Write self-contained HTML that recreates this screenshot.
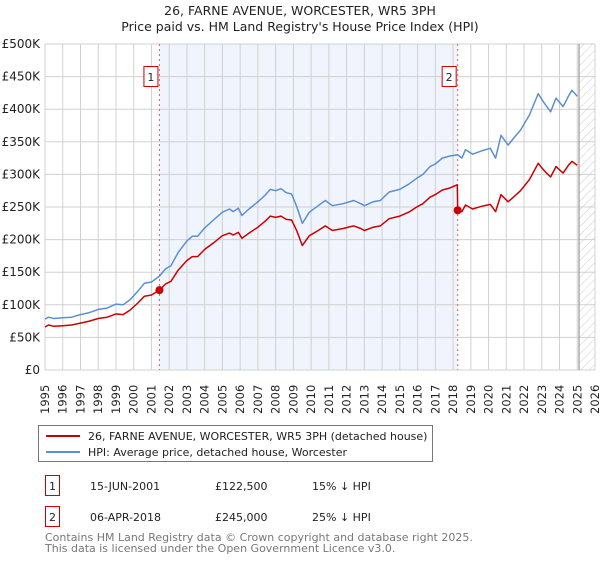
<!DOCTYPE html>
<html><head><meta charset="utf-8"><style>
body{margin:0;background:#fff;font-family:"Liberation Sans","DejaVu Sans",sans-serif;}
svg text{font-family:"DejaVu Sans","Liberation Sans",sans-serif;}
</style></head><body>
<svg id="chart" width="600" height="560" xmlns="http://www.w3.org/2000/svg">
<defs><pattern id="hatch" width="6" height="6" patternUnits="userSpaceOnUse" patternTransform="rotate(45)"><line x1="0" y1="0" x2="0" y2="6" stroke="#ccc" stroke-width="1"/></pattern></defs>
<text x="300" y="15" text-anchor="middle" font-size="12.5" fill="#222">26, FARNE AVENUE, WORCESTER, WR5 3PH</text>
<text x="300" y="31" text-anchor="middle" font-size="12.5" fill="#222">Price paid vs. HM Land Registry's House Price Index (HPI)</text>
<g id="plot"></g>
<g>
<rect x="38.5" y="425.5" width="394" height="36" fill="#fff" stroke="#777"/>
<line x1="46" y1="436" x2="80" y2="436" stroke="#cc0000" stroke-width="2"/>
<text x="88" y="440" font-size="11" fill="#222">26, FARNE AVENUE, WORCESTER, WR5 3PH (detached house)</text>
<line x1="46" y1="452" x2="80" y2="452" stroke="#5b8fd4" stroke-width="2"/>
<text x="88" y="456" font-size="11" fill="#222">HPI: Average price, detached house, Worcester</text>
</g>
<g font-size="11" fill="#222">
<rect x="45.5" y="475.5" width="14" height="20" fill="#fff" stroke="#cc0000"/>
<text x="52.5" y="490" text-anchor="middle">1</text>
<text x="90" y="490">15-JUN-2001</text><text x="215" y="490">£122,500</text><text x="312" y="490">15% ↓ HPI</text>
<rect x="45.5" y="506.5" width="14" height="20" fill="#fff" stroke="#cc0000"/>
<text x="52.5" y="521" text-anchor="middle">2</text>
<text x="90" y="521">06-APR-2018</text><text x="215" y="521">£245,000</text><text x="312" y="521">25% ↓ HPI</text>
</g>
<text x="45" y="541" font-size="11" fill="#777">Contains HM Land Registry data © Crown copyright and database right 2025.</text>
<text x="45" y="552" font-size="11" fill="#777">This data is licensed under the Open Government Licence v3.0.</text>
</svg>
<script>
const hpiYears=[1995.0,1995.2,1995.5,1996.0,1996.5,1997.0,1997.5,1998.0,1998.5,1999.0,1999.4,1999.8,2000.2,2000.6,2001.0,2001.45,2001.8,2002.1,2002.5,2003.0,2003.3,2003.6,2004.0,2004.5,2005.0,2005.4,2005.6,2005.9,2006.1,2006.5,2007.0,2007.4,2007.7,2008.0,2008.3,2008.6,2008.9,2009.2,2009.5,2009.9,2010.4,2010.8,2011.2,2011.8,2012.4,2012.8,2013.0,2013.5,2013.9,2014.4,2015.0,2015.5,2015.95,2016.3,2016.7,2017.0,2017.4,2017.8,2018.26,2018.5,2018.7,2019.1,2019.6,2020.1,2020.4,2020.7,2021.1,2021.4,2021.8,2022.3,2022.8,2023.0,2023.2,2023.5,2023.8,2024.2,2024.5,2024.7,2025.0];
const hpiValues=[78,81,79,80,81,85,88,93,95,101,100,108,120,133,135,144,155,160,180,198,205,205,218,230,242,247,243,248,237,247,258,268,277,275,278,272,270,250,225,242,252,260,252,255,260,255,252,258,260,273,277,285,294,300,312,316,325,328,330,325,338,331,336,340,325,360,345,355,368,391,424,415,407,396,417,404,420,429,420];
const propYears=[1995.0,1995.2,1995.5,1996.0,1996.5,1997.0,1997.5,1998.0,1998.5,1999.0,1999.4,1999.8,2000.2,2000.6,2001.0,2001.45,2001.8,2002.1,2002.5,2003.0,2003.3,2003.6,2004.0,2004.5,2005.0,2005.4,2005.6,2005.9,2006.1,2006.5,2007.0,2007.4,2007.7,2008.0,2008.3,2008.6,2008.9,2009.2,2009.5,2009.9,2010.4,2010.8,2011.2,2011.8,2012.4,2012.8,2013.0,2013.5,2013.9,2014.4,2015.0,2015.5,2015.95,2016.3,2016.7,2017.0,2017.4,2017.8,2018.24,2018.26,2018.5,2018.7,2019.1,2019.6,2020.1,2020.4,2020.7,2021.1,2021.4,2021.8,2022.3,2022.8,2023.0,2023.2,2023.5,2023.8,2024.2,2024.5,2024.7,2025.0];
const propValues=[66,69,67,68,69,72,75,79,81,86,85,92,102,113,115,122.5,132,136,153,168,174,174,185,195,206,210,207,211,202,210,219,228,236,234,236,231,230,213,191,206,214,221,214,217,221,217,214,219,221,232,236,242,250,255,265,269,276,279,284,245,243,253,247,251,254,243,269,258,265,275,292,317,310,304,296,312,302,314,320,314];
const yTicks=[0,50,100,150,200,250,300,350,400,450,500];
const yTickLabels=["£0","£50K","£100K","£150K","£200K","£250K","£300K","£350K","£400K","£450K","£500K"];
const xTicks=[1995,1996,1997,1998,1999,2000,2001,2002,2003,2004,2005,2006,2007,2008,2009,2010,2011,2012,2013,2014,2015,2016,2017,2018,2019,2020,2021,2022,2023,2024,2025,2026];
const sales=[{n:"1",year:2001.45,value:122.5},{n:"2",year:2018.26,value:245}];
const dataEnd=2025.1;

const X0=45,X1=595,Y0=370,Y1=44;
const xs=y=>X0+(y-1995)/(2026-1995)*(X1-X0);
const ys=v=>Y0-v/500*(Y0-Y1);
const NS="http://www.w3.org/2000/svg";
const g=document.getElementById('plot');
function mk(t,a){const e=document.createElementNS(NS,t);for(const k in a)e.setAttribute(k,a[k]);g.appendChild(e);return e;}

let e=mk('rect',{x:xs(sales[0].year),y:Y1,width:xs(sales[1].year)-xs(sales[0].year),height:Y0-Y1,fill:'#f0f4fd'});


e=mk('rect',{x:xs(dataEnd),y:Y1,width:X1-xs(dataEnd),height:Y0-Y1,fill:'url(#hatch)'});


xTicks.forEach(t=>{
  e=mk('line',{x1:xs(t),x2:xs(t),y1:Y1,y2:Y0,stroke:'#d0d0d0','stroke-width':1});
  
  
  e=mk('text',{x:0,y:0,transform:`translate(${xs(t)+4},${Y0+44}) rotate(-90)`,'font-size':11.5,fill:'#222'});
  e.textContent=t;
  
  
});
yTicks.forEach((t,i)=>{
  e=mk('line',{x1:X0,x2:X1,y1:ys(t),y2:ys(t),stroke:'#d0d0d0','stroke-width':1});
  
  
  e=mk('text',{x:X0-5,y:ys(t)+4,'text-anchor':'end','font-size':12,fill:'#222'});
  e.textContent=yTickLabels[i];
  
  
});
e=mk('line',{x1:xs(dataEnd),x2:xs(dataEnd),y1:Y1,y2:Y0,stroke:'#999','stroke-width':1.2});


sales.forEach(s=>{
  e=mk('line',{x1:xs(s.year),x2:xs(s.year),y1:Y1,y2:Y0,stroke:'#e06070','stroke-width':1,'stroke-dasharray':'2,3'});
  
  
});
const path=(xa,va)=>xa.map((x,i)=>(i?'L':'M')+xs(x).toFixed(1)+','+ys(va[i]).toFixed(1)).join('');
e=mk('path',{d:path(hpiYears,hpiValues),fill:'none',stroke:'#5b8fd4','stroke-width':1.5,'stroke-linejoin':'round'});


e=mk('path',{d:path(propYears,propValues),fill:'none',stroke:'#cc0000','stroke-width':1.5,'stroke-linejoin':'round'});


sales.forEach(s=>{
  e=mk('circle',{cx:xs(s.year),cy:ys(s.value),r:4,fill:'#cc0000'});
  
  
  e=mk('rect',{x:xs(s.year)-15.5,y:66.5,width:14,height:20,fill:'#fff',stroke:'#cc0000'});
  
  
  e=mk('text',{x:xs(s.year)-8.5,y:81,'text-anchor':'middle','font-size':11,fill:'#222'});
  e.textContent=s.n;
  
  
});
</script>
</body></html>
